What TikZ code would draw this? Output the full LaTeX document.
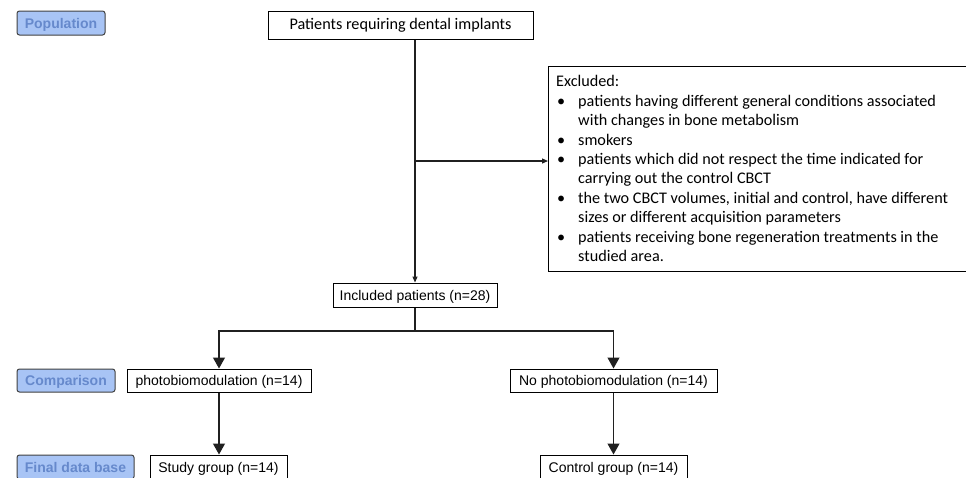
\documentclass[tikz,border=0pt]{standalone}
\usepackage{fontspec}
\setmainfont{Liberation Sans}
\newfontfamily\calfont{Carlito}
\usetikzlibrary{arrows.meta}
\definecolor{lblfill}{HTML}{A8C4F5}
\definecolor{lbltext}{HTML}{6689CC}
\definecolor{lnc}{HTML}{202020}
\tikzset{
  box/.style={draw=black, line width=1pt, fill=white, inner sep=0pt, text height=10pt, text depth=0pt, font=\fontsize{14}{16}\selectfont},
  calbox/.style={draw=black, line width=1pt, fill=white, inner sep=0pt, font=\calfont\fontsize{16.2}{19}\selectfont},
  lbl/.style={draw=black!75, line width=1pt, rounded corners=2.5pt, fill=lblfill, text=lbltext, inner sep=0pt, text height=10pt, text depth=0pt, font=\bfseries\fontsize{14}{16}\selectfont},
  conn/.style={draw=lnc, line width=1.2pt},
  bigarrow/.style={conn, -{Triangle[width=12pt,length=11pt]}},
  smallarrow/.style={conn, -{Triangle[width=5pt,length=6pt]}},
  extext/.style={anchor=base west, inner sep=0pt, font=\calfont\fontsize{16.2}{19}\selectfont}
}
\begin{document}
\begin{tikzpicture}[x=1pt,y=-1pt]
\useasboundingbox (0,0) rectangle (966,477);
% labels
\node[lbl, minimum width=88pt, minimum height=24pt] (lpop) at (61,23) {Population};
\node[lbl, minimum width=98pt, minimum height=23pt] (lcmp) at (66,380.5) {Comparison};
\node[lbl, minimum width=117pt, minimum height=24pt] (lfin) at (75.5,467) {Final data base};
% boxes
\node[calbox, minimum width=265pt, minimum height=28pt] (top) at (400.5,25) {Patients requiring dental implants};
\node[calbox, anchor=north west, minimum width=430pt, minimum height=205pt] (excl) at (548,66) {};
\node[box, minimum width=164pt, minimum height=24pt] (inc) at (415,295) {Included patients (n=28)};
\node[box, minimum width=184pt, minimum height=23pt] (pb) at (219,380.5) {photobiomodulation (n=14)};
\node[box, minimum width=207pt, minimum height=23pt] (npb) at (613.5,380.5) {No photobiomodulation (n=14)};
\node[box, minimum width=137pt, minimum height=24pt] (sg) at (218.5,467) {Study group (n=14)};
\node[box, minimum width=147pt, minimum height=24pt] (cg) at (613.5,467) {Control group (n=14)};
% excluded text
\node[extext] (e0) at (556,86) {Excluded:};
\foreach \y/\b/\t [count=\i] in {
  106/{\textbullet}/{patients having different general conditions associated},
  125/{}/{with changes in bone metabolism},
  145/{\textbullet}/{smokers},
  164/{\textbullet}/{patients which did not respect the time indicated for},
  183/{}/{carrying out the control CBCT},
  203/{\textbullet}/{the two CBCT volumes, initial and control, have different},
  222/{}/{sizes or different acquisition parameters},
  242/{\textbullet}/{patients receiving bone regeneration treatments in the},
  261/{}/{studied area.}} {
  \node[extext] (eb\i) at (557,\y) {\b};
  \node[extext] (et\i) at (578,\y) {\t};
}
% connectors
\coordinate (br) at (415,161);
\draw[smallarrow] (top.south -| inc.north) -- (inc.north);
\draw[smallarrow] (br) -- (br -| excl.west);
\coordinate (sp) at (415,331);
\draw[conn] (inc.south) -- (sp);
\draw[bigarrow] (sp) -| (pb.north);
\draw[bigarrow] (sp) -| (npb.north);
\draw[bigarrow] (pb.south) -- (pb.south |- sg.north);
\draw[bigarrow] (npb.south) -- (npb.south |- cg.north);
\end{tikzpicture}
\end{document}
